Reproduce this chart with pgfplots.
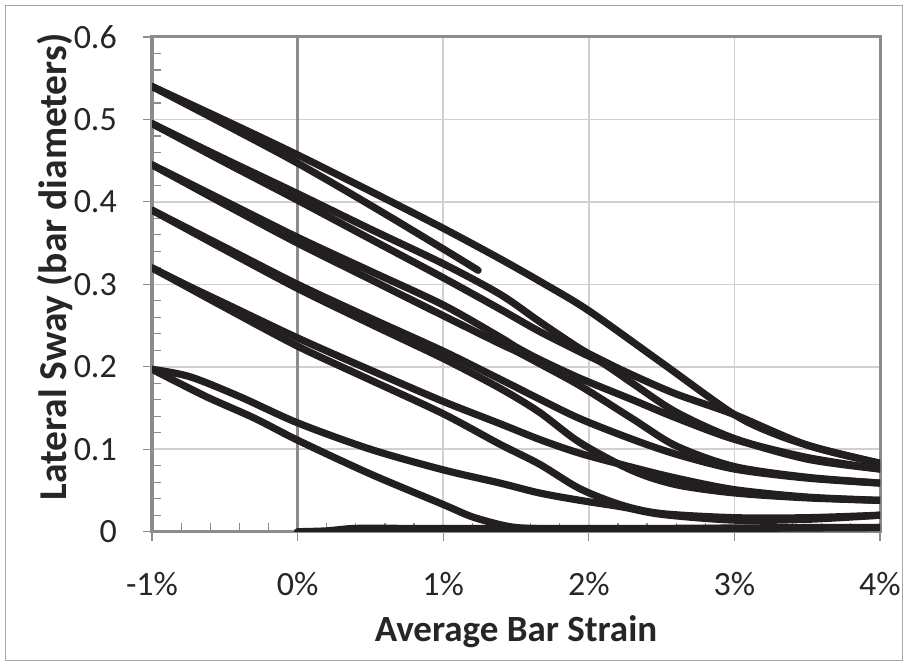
\documentclass[border=0pt]{standalone}
\usepackage{fontspec}
\setmainfont{Carlito}
\usepackage{pgfplots}
\pgfplotsset{compat=1.18}
\definecolor{curve}{HTML}{231F20}
\definecolor{axgray}{HTML}{8C8C8C}
\definecolor{gridgray}{HTML}{D0D0D0}
\definecolor{framegray}{HTML}{A6A6A6}
\begin{document}
\begin{tikzpicture}
\path[use as bounding box] (0,0) rectangle (908bp,666bp);
\fill[white] (0,0) rectangle (908bp,666bp);
\draw[framegray, line width=1.2bp] (5.5bp,5.5bp) rectangle (902.5bp,660.5bp);
\begin{axis}[
  at={(152bp,134.3bp)}, anchor=south west,
  scale only axis, width=728bp, height=494.7bp,
  xmin=-1, xmax=4, ymin=0, ymax=0.6,
  xtick={-1,0,1,2,3,4}, xticklabels={-1\%,0\%,1\%,2\%,3\%,4\%},
  ytick={0,0.1,0.2,0.3,0.4,0.5,0.6}, yticklabels={0,0.1,0.2,0.3,0.4,0.5,0.6},
  minor x tick num=4, minor y tick num=4,
  xtick pos=left, ytick pos=left,
  tick align=outside,
  major tick length=9bp, minor tick length=-9bp,
  every tick/.style={axgray, line width=1.2bp},
  grid=major,
  major grid style={gridgray, line width=1.5bp},
  axis line style={axgray, line width=3bp},
  extra x ticks={0}, extra x tick labels={},
  extra x tick style={grid=major, major grid style={axgray, line width=3bp}},
  ticklabel style={font=\fontsize{34bp}{40bp}\selectfont, text=black!85},
  xticklabel style={anchor=base, inner sep=0pt, yshift=-55bp},
  yticklabel style={anchor=east, inner sep=0pt, xshift=-26bp},
  xlabel={Average Bar Strain},
  ylabel={Lateral Sway (bar diameters)},
  xlabel style={font=\bfseries\fontsize{37bp}{42bp}\selectfont, text=black!85, at={(axis description cs:0.5,0)}, anchor=base, yshift=-110bp},
  ylabel style={font=\bfseries\fontsize{39.5bp}{44bp}\selectfont, text=black!85, at={(axis description cs:-0.118,0.535)}, anchor=base},
  sw/.style={curve, line width=7.2bp, no markers, smooth, tension=0.5, line cap=round, line join=round},
]
% C0
\addplot[sw] coordinates {(0,0.0) (0.2,0.001) (0.4,0.004) (0.8,0.004) (1.5,0.004) (2.5,0.004) (3.5,0.005) (4,0.005)};
% C1
\addplot[sw] coordinates {(-1,0.197) (-0.63,0.164) (-0.3,0.138) (0,0.111) (0.5,0.07) (1,0.033) (1.2,0.018) (1.43,0.007) (1.6,0.004) (2,0.003) (3,0.004) (4,0.005)};
% T1
\addplot[sw] coordinates {(-1,0.197) (-0.74,0.188) (-0.4,0.164) (0,0.132) (0.5,0.1) (1,0.075) (1.39,0.059) (1.66,0.047) (1.94,0.038) (2.23,0.03) (2.5,0.021) (3,0.014) (3.5,0.015) (4,0.02)};
% C2
\addplot[sw] coordinates {(-1,0.32) (-0.75,0.296) (-0.5,0.272) (0,0.225) (0.5,0.184) (1,0.143) (1.39,0.106) (1.66,0.082) (1.94,0.052) (2.23,0.032) (2.5,0.022) (3,0.017) (3.5,0.017) (4,0.02)};
% T2
\addplot[sw] coordinates {(-1,0.32) (-0.75,0.298) (-0.5,0.277) (0,0.235) (0.5,0.196) (1,0.158) (1.39,0.131) (1.66,0.112) (1.94,0.095) (2.3,0.078) (2.6,0.065) (3,0.051) (3.5,0.042) (4,0.038)};
% C3
\addplot[sw] coordinates {(-1,0.39) (-0.5,0.342) (0,0.295) (0.5,0.252) (1,0.21) (1.39,0.174) (1.66,0.145) (1.94,0.108) (2.3,0.074) (2.6,0.057) (3,0.047) (3.5,0.041) (4,0.038)};
% T3
\addplot[sw] coordinates {(-1,0.39) (-0.5,0.345) (0,0.30) (0.5,0.259) (1,0.219) (1.39,0.185) (1.66,0.161) (1.94,0.137) (2.3,0.112) (2.6,0.094) (3,0.076) (3.5,0.065) (4,0.059)};
% C4
\addplot[sw] coordinates {(-1,0.445) (-0.5,0.397) (0,0.35) (0.5,0.306) (1,0.262) (1.39,0.228) (1.5,0.219) (1.66,0.204) (1.94,0.177) (2.3,0.137) (2.6,0.104) (3,0.079) (3.5,0.066) (4,0.059)};
% T4
\addplot[sw] coordinates {(-1,0.445) (-0.5,0.401) (0,0.357) (0.5,0.316) (1,0.275) (1.39,0.236) (1.5,0.224) (1.66,0.209) (1.94,0.186) (2.3,0.16) (2.6,0.138) (3,0.112) (3.5,0.09) (4,0.076)};
% C5
\addplot[sw] coordinates {(-1,0.495) (-0.5,0.448) (0,0.402) (0.5,0.355) (1,0.308) (1.39,0.27) (1.66,0.243) (1.94,0.218) (2.1,0.204) (2.3,0.18) (2.6,0.145) (3,0.113) (3.5,0.088) (4,0.076)};
% T5
\addplot[sw] coordinates {(-1,0.495) (-0.5,0.452) (0,0.41) (0.5,0.367) (1,0.325) (1.39,0.288) (1.66,0.255) (1.94,0.222) (2.1,0.207) (2.3,0.19) (2.6,0.167) (3,0.142) (3.5,0.105) (4,0.083)};
% C6
\addplot[sw] coordinates {(-1,0.54) (-0.5,0.499) (0,0.457) (0.5,0.413) (1,0.368) (1.39,0.331) (1.7,0.3) (2,0.268) (2.5,0.205) (3,0.142) (3.3,0.117) (3.6,0.1) (4,0.083)};
% T6
\addplot[sw] coordinates {(-1,0.54) (-0.5,0.494) (0,0.447) (0.5,0.396) (1,0.343) (1.24,0.317)};
\end{axis}
\end{tikzpicture}
\end{document}
